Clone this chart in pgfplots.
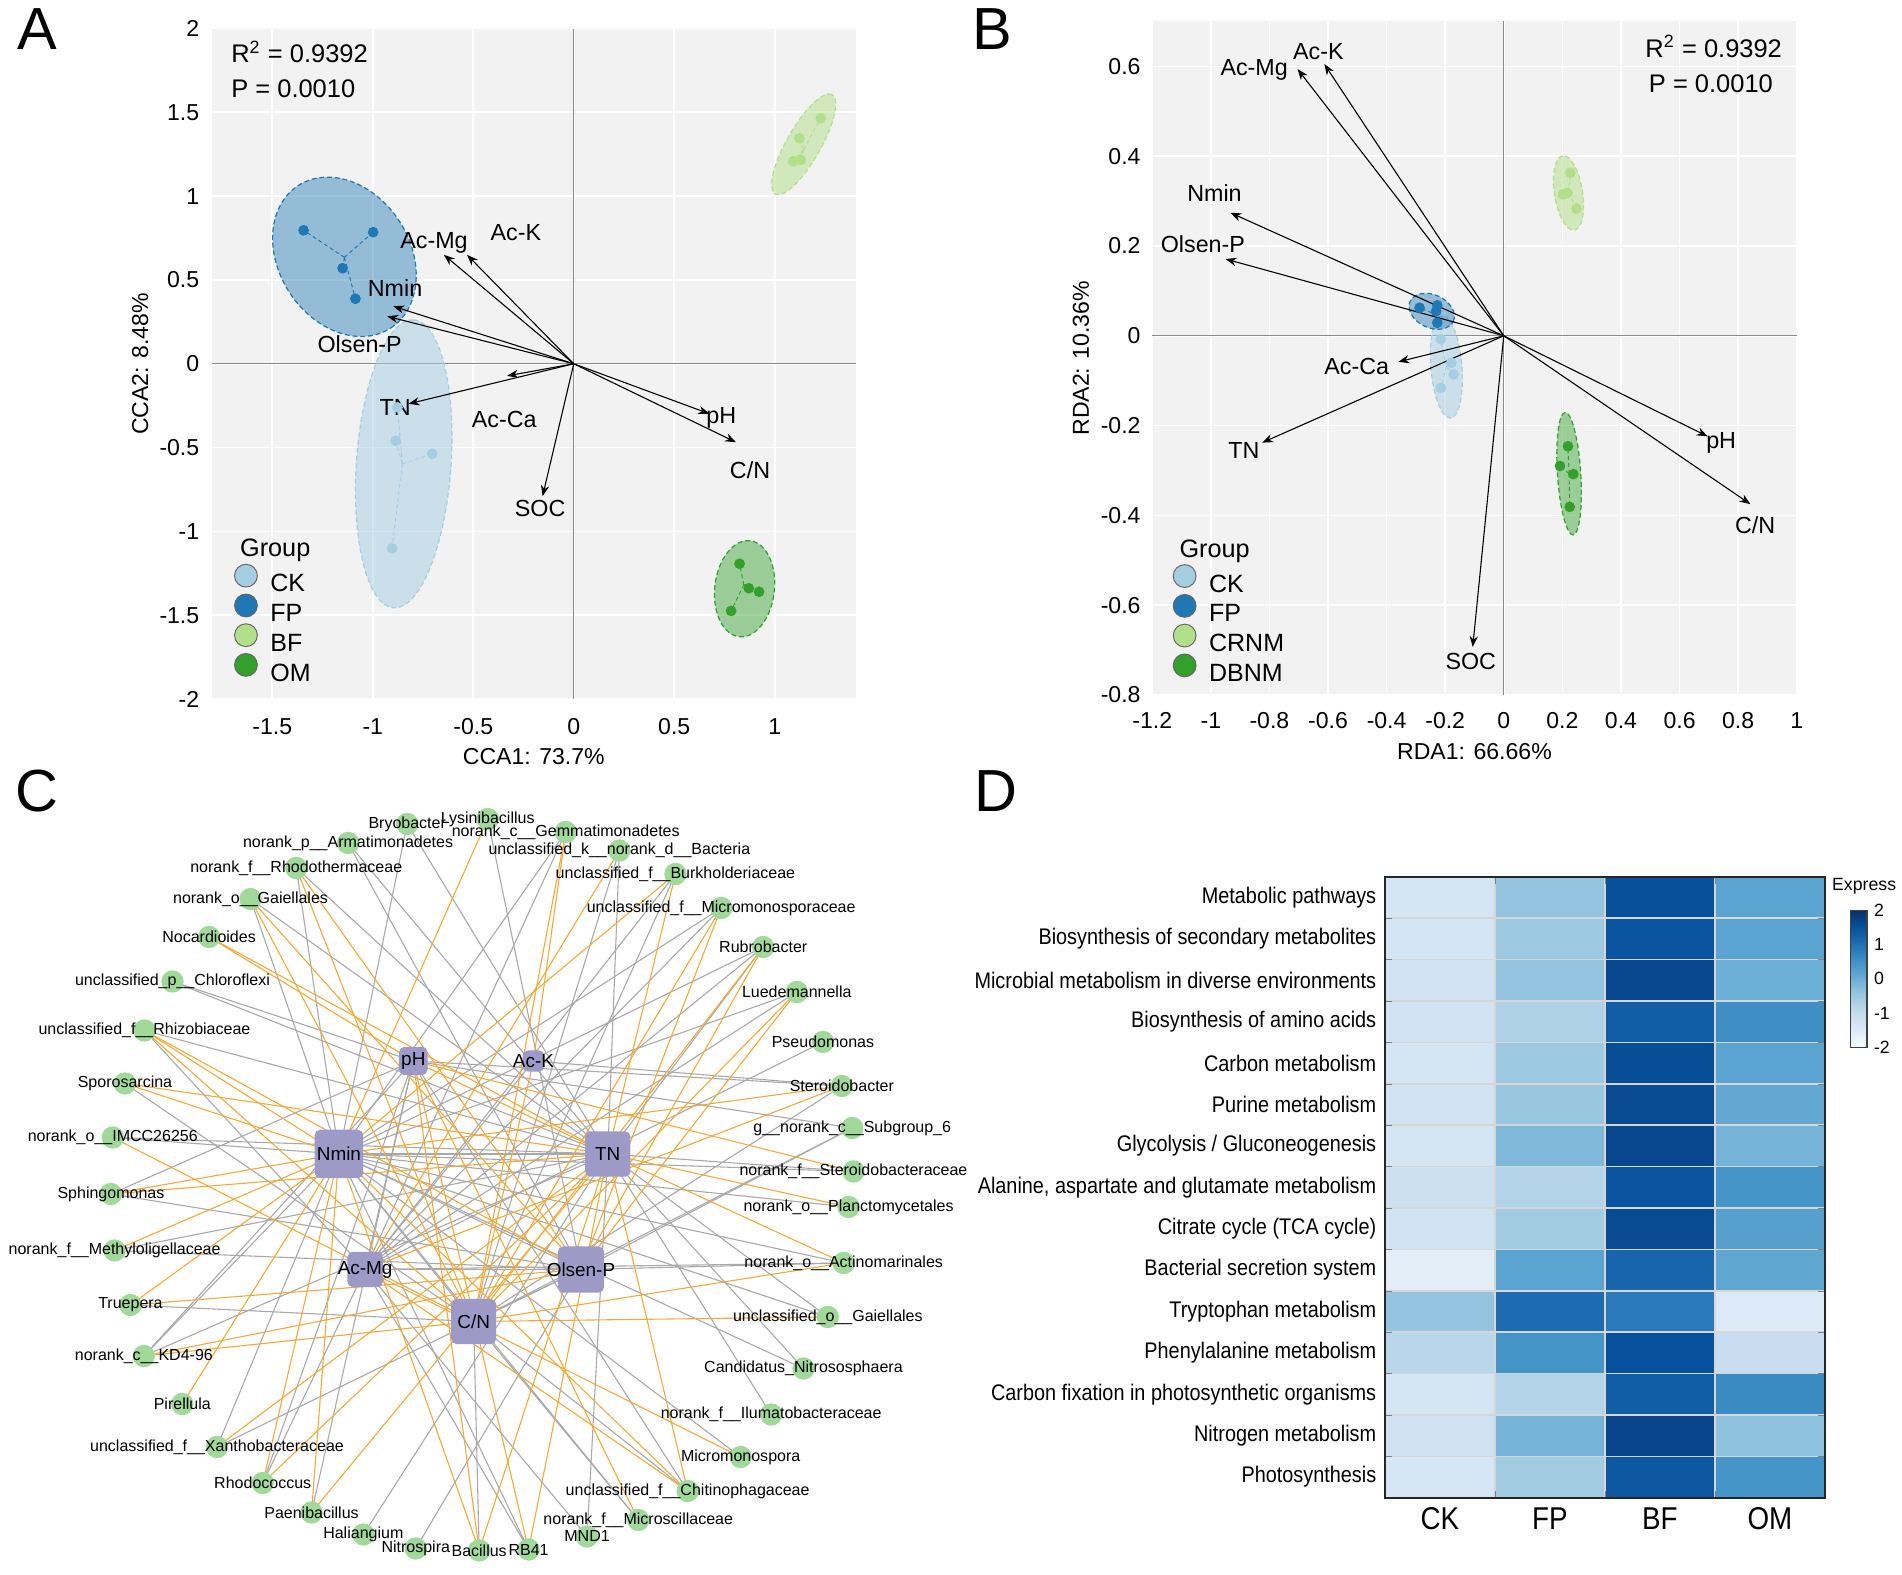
\documentclass[border=0pt]{standalone}
\usepackage{fontspec}
\setmainfont{Liberation Sans}
\newfontfamily\condfont[FakeStretch=0.88]{Liberation Sans}
\usepackage{pgfplots}
\usepackage{pgfplotstable}
\pgfplotsset{compat=1.18}
\usetikzlibrary{arrows.meta}

\definecolor{ckc}{HTML}{A6CEE3}
\definecolor{fpc}{HTML}{1F78B4}
\definecolor{bfc}{HTML}{B2DF8A}
\definecolor{omc}{HTML}{33A02C}
\definecolor{panelbg}{HTML}{F2F2F2}
\definecolor{zeroc}{HTML}{8A8A8A}
\definecolor{hubc}{HTML}{9E9AC8}
\definecolor{leafc}{HTML}{A1D99B}
\definecolor{orgE}{HTML}{F2A93B}
\definecolor{gryE}{HTML}{A8A8A8}
\definecolor{cellgrid}{HTML}{D6D6D6}

\newcommand\fs[1]{\fontsize{#1}{#1}\selectfont}

\pgfplotsset{
  /pgf/number format/assume math mode=true,
  ord/.style={
    scale only axis, clip=false,
    axis background/.style={fill=panelbg},
    axis line style={draw=none},
    major tick length=0pt,
    xmajorgrids=true, ymajorgrids=true,
    major grid style={white, line width=0.7pt},
    tick label style={font=\fs{9.5}, text=black},
    label style={font=\fs{9.5}},
    legend style={draw=none, fill=none, inner sep=0pt, outer sep=0pt,
      row sep=-0.75pt, column sep=5.2pt, font=\fs{10.3},
      nodes={inner sep=0pt}},
    legend cell align=left,
  },
  arr/.style={black, line width=0.45pt, -{Stealth[length=4.5pt, width=3.4pt]}, forget plot},
  spider/.style={line width=0.4pt, dash pattern=on 1.6pt off 1.2pt, forget plot},
  pts/.style={only marks, mark=*, mark size=2pt, forget plot},
  zero/.style={zeroc, line width=0.5pt, forget plot},
  oedge/.style={orgE, line width=0.45pt, mark=none},
  gedge/.style={gryE, line width=0.45pt, mark=none},
  hub/.style 2 args={hubc, only marks, mark=*, mark size=0.1pt,
    nodes near coords={\makebox[0pt]{\pgfplotspointmeta}}, point meta=explicit symbolic,
    every node near coord/.append style={font=\fs{7.8}, text=black, fill=hubc,
      rounded corners=2.2pt, inner sep=0pt, anchor=center,
      minimum width=#1, minimum height=#2}},
}
\tikzset{
  vlab/.style={font=\fs{9.6}, inner sep=0pt, anchor=center},
  ell/.style={line width=0.5pt, dash pattern=on 2pt off 1.2pt},
}
\newcommand\EdO[2]{\addplot[oedge] coordinates {(#1) (#2)};}
\newcommand\EdG[2]{\addplot[gedge] coordinates {(#1) (#2)};}

\pgfplotstableread{
x y c
1 1 -1.3
2 1 -0.4
3 1 1.52
4 1 0.2
1 2 -1.3
2 2 -0.5
3 2 1.45
4 2 0.2
1 3 -1.25
2 3 -0.4
3 3 1.65
4 3 0.0
1 4 -1.25
2 4 -0.7
3 4 1.3
4 4 0.55
1 5 -1.3
2 5 -0.5
3 5 1.55
4 5 0.2
1 6 -1.25
2 6 -0.45
3 6 1.6
4 6 0.1
1 7 -1.3
2 7 -0.2
3 7 1.65
4 7 -0.1
1 8 -1.15
2 8 -0.75
3 8 1.45
4 8 0.45
1 9 -1.25
2 9 -0.55
3 9 1.6
4 9 0.25
1 10 -1.6
2 10 0.2
3 10 1.19
4 10 0.15
1 11 -0.4
2 11 1.08
3 11 0.85
4 11 -1.47
1 12 -0.85
2 12 0.45
3 12 1.5
4 12 -1.05
1 13 -1.3
2 13 -0.75
3 13 1.3
4 13 0.6
1 14 -1.2
2 14 -0.1
3 14 1.68
4 14 -0.35
1 15 -1.35
2 15 -0.55
3 15 1.4
4 15 0.45
}\heatdata

\begin{document}
\catcode`\_=12
\begin{tikzpicture}
\useasboundingbox (0,0) rectangle (784pt,-649.2pt);

% ---------------- Panel letters
\node[anchor=base west, font=\fs{24.5}, inner sep=0pt] at (7pt,-20.6pt) {A};
\node[anchor=base west, font=\fs{24.5}, inner sep=0pt] at (400.5pt,-20.6pt) {B};
\node[anchor=base west, font=\fs{24.5}, inner sep=0pt] at (6.3pt,-334.3pt) {C};
\node[anchor=base west, font=\fs{24.5}, inner sep=0pt] at (401.3pt,-334.3pt) {D};

% ---------------- Panel A
\begin{axis}[ord,
  at={(87.45pt,-288.15pt)}, anchor=south west,
  width=265.2pt, height=276.4pt,
  xmin=-1.799, xmax=1.402, ymin=-2, ymax=2,
  xtick={-1.5,-1,-0.5,0,0.5,1},
  ytick={-2,-1.5,-1,-0.5,0,0.5,1,1.5,2},
  xticklabel style={yshift=-4.4pt},
  yticklabel style={xshift=-1.8pt},
  xlabel={CCA1: 73.7\%}, ylabel={CCA2: 8.48\%},
  xlabel style={at={(axis description cs:0.5,-0.0863)}, anchor=center},
  ylabel style={at={(axis description cs:-0.1118,0.5)}, anchor=center},
  legend style={at={(axis cs:-1.690,-1.193)}, anchor=north west},
]
\addplot[zero] coordinates {(-1.799,0) (1.402,0)};
\addplot[zero] coordinates {(0,-2) (0,2)};
% ellipses
\path[ell, fill=ckc, fill opacity=0.5, draw=ckc] (axis cs:-0.846,-0.597) ellipse [x radius=59.5pt, y radius=19.5pt, rotate=86];
\path[ell, fill=fpc, fill opacity=0.44, draw=fpc] (axis cs:-1.141,0.638) ellipse [x radius=35pt, y radius=27pt, rotate=-57];
\path[ell, fill=bfc, fill opacity=0.5, draw=bfc] (axis cs:1.144,1.309) ellipse [x radius=23.6pt, y radius=7pt, rotate=60.2];
\path[ell, fill=omc, fill opacity=0.45, draw=omc] (axis cs:0.850,-1.342) ellipse [x radius=19.9pt, y radius=12.3pt, rotate=83.5];
% spiders
\addplot[spider, ckc] coordinates {(-0.853,-0.597) (-0.886,-0.459)};
\addplot[spider, ckc] coordinates {(-0.853,-0.597) (-0.704,-0.537)};
\addplot[spider, ckc] coordinates {(-0.853,-0.597) (-0.904,-1.101)};
\addplot[spider, ckc] coordinates {(-0.853,-0.597) (-0.877,-0.260)};
\addplot[spider, fpc] coordinates {(-1.141,0.635) (-1.344,0.796)};
\addplot[spider, fpc] coordinates {(-1.141,0.635) (-0.998,0.785)};
\addplot[spider, fpc] coordinates {(-1.141,0.635) (-1.150,0.570)};
\addplot[spider, fpc] coordinates {(-1.141,0.635) (-1.086,0.388)};
\addplot[spider, bfc] coordinates {(1.144,1.277) (1.229,1.465)};
\addplot[spider, bfc] coordinates {(1.144,1.277) (1.123,1.345)};
\addplot[spider, bfc] coordinates {(1.144,1.277) (1.129,1.217)};
\addplot[spider, bfc] coordinates {(1.144,1.277) (1.092,1.208)};
\addplot[spider, omc] coordinates {(0.846,-1.318) (0.825,-1.193)};
\addplot[spider, omc] coordinates {(0.846,-1.318) (0.871,-1.339)};
\addplot[spider, omc] coordinates {(0.846,-1.318) (0.922,-1.360)};
\addplot[spider, omc] coordinates {(0.846,-1.318) (0.783,-1.474)};
% points
\addplot[pts, ckc] coordinates {(-0.886,-0.459) (-0.704,-0.537) (-0.904,-1.101) (-0.877,-0.260)};
\addplot[pts, fpc] coordinates {(-1.344,0.796) (-0.998,0.785) (-1.150,0.570) (-1.086,0.388)};
\addplot[pts, bfc] coordinates {(1.229,1.465) (1.123,1.345) (1.129,1.217) (1.092,1.208)};
\addplot[pts, omc] coordinates {(0.825,-1.193) (0.871,-1.339) (0.922,-1.360) (0.783,-1.474)};
% arrows
\addplot[arr] coordinates {(0,0) (-0.646,0.650)};
\addplot[arr] coordinates {(0,0) (-0.531,0.650)};
\addplot[arr] coordinates {(0,0) (-0.898,0.343)};
\addplot[arr] coordinates {(0,0) (-0.928,0.283)};
\addplot[arr] coordinates {(0,0) (-0.331,-0.072)};
\addplot[arr] coordinates {(0,0) (-0.822,-0.239)};
\addplot[arr] coordinates {(0,0) (-0.155,-0.790)};
\addplot[arr] coordinates {(0,0) (0.674,-0.298)};
\addplot[arr] coordinates {(0,0) (0.807,-0.468)};
\node[vlab] at (axis cs:-0.695,0.722) {Ac-Mg};
\node[vlab] at (axis cs:-0.288,0.782) {Ac-K};
\node[vlab] at (axis cs:-0.889,0.453) {Nmin};
\node[vlab] at (axis cs:-1.065,0.119) {Olsen-P};
\node[vlab] at (axis cs:-0.889,-0.260) {TN};
\node[vlab] at (axis cs:-0.346,-0.334) {Ac-Ca};
\node[vlab] at (axis cs:-0.167,-0.865) {SOC};
\node[vlab] at (axis cs:0.734,-0.322) {pH};
\node[vlab] at (axis cs:0.877,-0.632) {C/N};
\node[anchor=base west, inner sep=0pt, font=\fs{10.5}] at (axis cs:-1.706,1.796) {R\textsuperscript{2} = 0.9392};
\node[anchor=base west, inner sep=0pt, font=\fs{10.5}] at (axis cs:-1.706,1.587) {P = 0.0010};
\node[anchor=west, inner sep=0pt, font=\fs{10.4}] at (axis cs:-1.662,-1.111) {Group};
\addlegendimage{legend image code/.code={\filldraw[fill=ckc, draw=black!60, line width=0.4pt] (4.7pt,3.8pt) circle [radius=4.7pt];}}
\addlegendentry{CK}
\addlegendimage{legend image code/.code={\filldraw[fill=fpc, draw=black!60, line width=0.4pt] (4.7pt,3.8pt) circle [radius=4.7pt];}}
\addlegendentry{FP}
\addlegendimage{legend image code/.code={\filldraw[fill=bfc, draw=black!60, line width=0.4pt] (4.7pt,3.8pt) circle [radius=4.7pt];}}
\addlegendentry{BF}
\addlegendimage{legend image code/.code={\filldraw[fill=omc, draw=black!60, line width=0.4pt] (4.7pt,3.8pt) circle [radius=4.7pt];}}
\addlegendentry{OM}
\end{axis}

% ---------------- Panel B
\begin{axis}[ord,
  at={(474.95pt,-286.5pt)}, anchor=south west,
  width=265.65pt, height=277.65pt,
  xmin=-1.2, xmax=1, ymin=-0.8, ymax=0.7,
  xtick={-1.2,-1,-0.8,-0.6,-0.4,-0.2,0,0.2,0.4,0.6,0.8,1},
  ytick={-0.8,-0.6,-0.4,-0.2,0,0.2,0.4,0.6},
  xticklabel style={yshift=-3.8pt},
  yticklabel style={xshift=-1.3pt},
  xlabel={RDA1: 66.66\%}, ylabel={RDA2: 10.36\%},
  xlabel style={at={(axis description cs:0.5,-0.0843)}, anchor=center},
  ylabel style={at={(axis description cs:-0.1108,0.5)}, anchor=center},
  legend style={at={(axis cs:-1.130,-0.5085)}, anchor=north west},
]
\addplot[zero] coordinates {(-1.2,0) (1,0)};
\addplot[zero] coordinates {(0,-0.8) (0,0.7)};
\path[ell, fill=ckc, fill opacity=0.5, draw=ckc] (axis cs:-0.196,-0.069) ellipse [x radius=21.2pt, y radius=6.4pt, rotate=94.7];
\path[ell, fill=fpc, fill opacity=0.44, draw=fpc] (axis cs:-0.246,0.0546) ellipse [x radius=9.8pt, y radius=6.8pt, rotate=-25];
\path[ell, fill=bfc, fill opacity=0.5, draw=bfc] (axis cs:0.221,0.318) ellipse [x radius=15.5pt, y radius=5.8pt, rotate=99];
\path[ell, fill=omc, fill opacity=0.45, draw=omc] (axis cs:0.223,-0.307) ellipse [x radius=25.3pt, y radius=4.8pt, rotate=93.7];
\addplot[spider, ckc] coordinates {(-0.196,-0.069) (-0.215,-0.0078)};
\addplot[spider, ckc] coordinates {(-0.196,-0.069) (-0.179,-0.060)};
\addplot[spider, ckc] coordinates {(-0.196,-0.069) (-0.171,-0.086)};
\addplot[spider, ckc] coordinates {(-0.196,-0.069) (-0.215,-0.116)};
\addplot[spider, fpc] coordinates {(-0.246,0.051) (-0.2875,0.0624)};
\addplot[spider, fpc] coordinates {(-0.246,0.051) (-0.227,0.068)};
\addplot[spider, fpc] coordinates {(-0.246,0.051) (-0.231,0.0546)};
\addplot[spider, fpc] coordinates {(-0.246,0.051) (-0.227,0.029)};
\addplot[spider, bfc] coordinates {(0.221,0.318) (0.227,0.363)};
\addplot[spider, bfc] coordinates {(0.221,0.318) (0.202,0.315)};
\addplot[spider, bfc] coordinates {(0.221,0.318) (0.248,0.283)};
\addplot[spider, omc] coordinates {(0.223,-0.307) (0.219,-0.246)};
\addplot[spider, omc] coordinates {(0.223,-0.307) (0.192,-0.290)};
\addplot[spider, omc] coordinates {(0.223,-0.307) (0.2375,-0.308)};
\addplot[spider, omc] coordinates {(0.223,-0.307) (0.225,-0.381)};
\addplot[pts, ckc] coordinates {(-0.215,-0.0078) (-0.179,-0.060) (-0.171,-0.086) (-0.215,-0.116)};
\addplot[pts, fpc] coordinates {(-0.2875,0.0624) (-0.227,0.068) (-0.231,0.0546) (-0.227,0.029)};
\addplot[pts, bfc] coordinates {(0.227,0.363) (0.202,0.315) (0.217,0.318) (0.248,0.283)};
\addplot[pts, omc] coordinates {(0.219,-0.246) (0.192,-0.290) (0.2375,-0.308) (0.225,-0.381)};
\addplot[arr] coordinates {(0,0) (-0.6125,0.605)};
\addplot[arr] coordinates {(0,0) (-0.704,0.594)};
\addplot[arr] coordinates {(0,0) (-0.933,0.274)};
\addplot[arr] coordinates {(0,0) (-0.950,0.171)};
\addplot[arr] coordinates {(0,0) (-0.360,-0.058)};
\addplot[arr] coordinates {(0,0) (-0.825,-0.238)};
\addplot[arr] coordinates {(0,0) (-0.106,-0.693)};
\addplot[arr] coordinates {(0,0) (0.696,-0.224)};
\addplot[arr] coordinates {(0,0) (0.842,-0.375)};
\node[vlab] at (axis cs:-0.633,0.633) {Ac-K};
\node[vlab] at (axis cs:-0.852,0.591) {Ac-Mg};
\node[vlab] at (axis cs:-0.9875,0.318) {Nmin};
\node[vlab] at (axis cs:-1.027,0.204) {Olsen-P};
\node[vlab] at (axis cs:-0.502,-0.069) {Ac-Ca};
\node[vlab] at (axis cs:-0.8875,-0.255) {TN};
\node[vlab] at (axis cs:-0.1125,-0.725) {SOC};
\node[vlab] at (axis cs:0.742,-0.238) {pH};
\node[vlab] at (axis cs:0.858,-0.422) {C/N};
\node[anchor=base west, inner sep=0pt, font=\fs{10.5}] at (axis cs:0.482,0.6205) {R\textsuperscript{2} = 0.9392};
\node[anchor=base west, inner sep=0pt, font=\fs{10.5}] at (axis cs:0.494,0.5415) {P = 0.0010};
\node[anchor=west, inner sep=0pt, font=\fs{10.4}] at (axis cs:-1.1085,-0.479) {Group};
\addlegendimage{legend image code/.code={\filldraw[fill=ckc, draw=black!60, line width=0.4pt] (4.7pt,3.8pt) circle [radius=4.7pt];}}
\addlegendentry{CK}
\addlegendimage{legend image code/.code={\filldraw[fill=fpc, draw=black!60, line width=0.4pt] (4.7pt,3.8pt) circle [radius=4.7pt];}}
\addlegendentry{FP}
\addlegendimage{legend image code/.code={\filldraw[fill=bfc, draw=black!60, line width=0.4pt] (4.7pt,3.8pt) circle [radius=4.7pt];}}
\addlegendentry{CRNM}
\addlegendimage{legend image code/.code={\filldraw[fill=omc, draw=black!60, line width=0.4pt] (4.7pt,3.8pt) circle [radius=4.7pt];}}
\addlegendentry{DBNM}
\end{axis}

% ---------------- Panel C (network)
\begin{axis}[
  at={(0pt,-649.2pt)}, anchor=south west, scale only axis,
  width=392pt, height=324.4pt,
  xmin=0, xmax=1560, ymin=0, ymax=1574, y dir=reverse,
  hide axis, clip=false,
]
\EdG{953,963}{800,62}
\EdG{556,732}{668,72}
\EdG{997,732}{668,72}
\EdG{599,963}{928,88}
\EdG{556,732}{928,88}
\EdG{997,732}{571,110}
\EdG{953,963}{571,110}
\EdG{997,732}{1016,125}
\EdG{777,1067}{1016,125}
\EdG{556,732}{486,160}
\EdG{997,732}{486,160}
\EdG{599,963}{1108,172}
\EdG{777,1067}{1108,172}
\EdG{997,732}{411,222}
\EdG{556,732}{411,222}
\EdG{556,732}{1183,240}
\EdG{599,963}{1183,240}
\EdG{556,732}{1252,318}
\EdG{599,963}{1252,318}
\EdG{997,732}{1252,318}
\EdG{678,546}{283,387}
\EdG{997,732}{283,387}
\EdG{556,732}{1307,408}
\EdG{599,963}{1307,408}
\EdG{599,963}{237,485}
\EdG{997,732}{237,485}
\EdG{599,963}{1350,508}
\EdG{777,1067}{205,591}
\EdG{678,546}{1381,596}
\EdG{777,1067}{1381,596}
\EdG{875,546}{1381,596}
\EdG{556,732}{185,699}
\EdG{997,732}{185,699}
\EdG{678,546}{1398,680}
\EdG{953,963}{1398,680}
\EdG{777,1067}{1398,680}
\EdG{556,732}{1400,767}
\EdG{997,732}{1400,767}
\EdG{678,546}{182,812}
\EdG{953,963}{182,812}
\EdG{556,732}{1392,838}
\EdG{953,963}{188,925}
\EdG{997,732}{188,925}
\EdG{953,963}{1384,950}
\EdG{599,963}{1384,950}
\EdG{556,732}{1384,950}
\EdG{777,1067}{214,1034}
\EdG{556,732}{1358,1058}
\EdG{997,732}{1358,1058}
\EdG{678,546}{236,1136}
\EdG{556,732}{236,1136}
\EdG{997,732}{236,1136}
\EdG{556,732}{1318,1161}
\EdG{997,732}{1318,1161}
\EdG{997,732}{1265,1253}
\EdG{556,732}{356,1318}
\EdG{953,963}{356,1318}
\EdG{556,732}{1215,1338}
\EdG{599,963}{431,1390}
\EdG{678,546}{431,1390}
\EdG{678,546}{1128,1406}
\EdG{777,1067}{1128,1406}
\EdG{678,546}{511,1449}
\EdG{777,1067}{1047,1464}
\EdG{556,732}{1047,1464}
\EdG{997,732}{596,1493}
\EdG{997,732}{963,1497}
\EdG{599,963}{963,1497}
\EdG{953,963}{682,1521}
\EdG{777,1067}{786,1525}
\EdG{556,732}{867,1523}
\EdG{599,963}{867,1523}
\EdG{556,732}{997,732}
\EdG{556,732}{953,963}
\EdG{599,963}{953,963}
\EdG{777,1067}{953,963}
\EdG{556,732}{777,1067}
\EdG{678,546}{599,963}
\EdG{875,546}{599,963}
\EdO{556,732}{800,62}
\EdO{875,546}{928,88}
\EdO{777,1067}{928,88}
\EdO{599,963}{1016,125}
\EdO{777,1067}{486,160}
\EdO{953,963}{486,160}
\EdO{556,732}{1108,172}
\EdO{997,732}{1108,172}
\EdO{777,1067}{411,222}
\EdO{953,963}{411,222}
\EdO{777,1067}{1183,240}
\EdO{953,963}{1183,240}
\EdO{678,546}{343,298}
\EdO{997,732}{343,298}
\EdO{777,1067}{1252,318}
\EdO{953,963}{1252,318}
\EdO{777,1067}{1307,408}
\EdO{953,963}{1307,408}
\EdO{556,732}{237,485}
\EdO{777,1067}{237,485}
\EdO{953,963}{237,485}
\EdO{556,732}{205,591}
\EdO{997,732}{205,591}
\EdO{556,732}{1381,596}
\EdO{599,963}{1381,596}
\EdO{777,1067}{185,699}
\EdO{678,546}{1400,767}
\EdO{997,732}{182,812}
\EdO{556,732}{182,812}
\EdO{997,732}{1392,838}
\EdO{556,732}{188,925}
\EdO{777,1067}{1384,950}
\EdO{997,732}{1384,950}
\EdO{556,732}{214,1034}
\EdO{953,963}{214,1034}
\EdO{777,1067}{1358,1058}
\EdO{953,963}{236,1136}
\EdO{777,1067}{236,1136}
\EdO{556,732}{299,1232}
\EdO{997,732}{356,1318}
\EdO{599,963}{1215,1338}
\EdO{556,732}{431,1390}
\EdO{997,732}{431,1390}
\EdO{556,732}{1128,1406}
\EdO{599,963}{1128,1406}
\EdO{997,732}{1128,1406}
\EdO{556,732}{511,1449}
\EdO{997,732}{511,1449}
\EdO{678,546}{1047,1464}
\EdO{556,732}{786,1525}
\EdO{997,732}{786,1525}
\EdO{678,546}{786,1525}
\EdO{997,732}{867,1523}
\EdO{678,546}{867,1523}
\EdO{678,546}{997,732}
\EdO{875,546}{777,1067}
% leaf nodes
\addplot[leafc, only marks, mark=*, mark size=4.4pt,
  nodes near coords, point meta=explicit symbolic,
  every node near coord/.append style={font=\fs{6.6}, inner sep=0pt, anchor=center, text=black}]
coordinates {
(800,62)[Lysinibacillus]
(668,72)[Bryobacter]
(928,88)[norank_c__Gemmatimonadetes]
(571,110)[norank_p__Armatimonadetes]
(1016,125)[unclassified_k__norank_d__Bacteria]
(486,160)[norank_f__Rhodothermaceae]
(1108,172)[unclassified_f__Burkholderiaceae]
(411,222)[norank_o__Gaiellales]
(1183,240)[unclassified_f__Micromonosporaceae]
(343,298)[Nocardioides]
(1252,318)[Rubrobacter]
(283,387)[unclassified_p__Chloroflexi]
(1307,408)[Luedemannella]
(237,485)[unclassified_f__Rhizobiaceae]
(1350,508)[Pseudomonas]
(205,591)[Sporosarcina]
(1381,596)[Steroidobacter]
(185,699)[norank_o__IMCC26256]
(1398,680)[g__norank_c__Subgroup_6]
(1400,767)[norank_f__Steroidobacteraceae]
(182,812)[Sphingomonas]
(1392,838)[norank_o__Planctomycetales]
(188,925)[norank_f__Methyloligellaceae]
(1384,950)[norank_o__Actinomarinales]
(214,1034)[Truepera]
(1358,1058)[unclassified_o__Gaiellales]
(236,1136)[norank_c__KD4-96]
(1318,1161)[Candidatus_Nitrososphaera]
(299,1232)[Pirellula]
(1265,1253)[norank_f__Ilumatobacteraceae]
(356,1318)[unclassified_f__Xanthobacteraceae]
(1215,1338)[Micromonospora]
(431,1390)[Rhodococcus]
(1128,1406)[unclassified_f__Chitinophagaceae]
(511,1449)[Paenibacillus]
(1047,1464)[norank_f__Microscillaceae]
(596,1493)[Haliangium]
(963,1497)[MND1]
(682,1521)[Nitrospira]
(786,1525)[Bacillus]
(867,1523)[RB41]
};
% hub nodes
\addplot[hub={20pt}{20pt}] coordinates {(556,732)[Nmin]};
\addplot[hub={18.7pt}{18.7pt}] coordinates {(997,732)[TN]};
\addplot[hub={19pt}{19pt}] coordinates {(953,963)[Olsen-P]};
\addplot[hub={18.6pt}{18.6pt}] coordinates {(777,1067)[C/N]};
\addplot[hub={14.6pt}{14.6pt}] coordinates {(599,963)[Ac-Mg]};
\addplot[hub={11.7pt}{11.7pt}] coordinates {(678,546)[pH]};
\addplot[hub={9pt}{8.7pt}] coordinates {(875,546)[Ac-K]};
\end{axis}

% ---------------- Panel D (heatmap)
\begin{axis}[
  at={(570.8pt,-617.4pt)}, anchor=south west, scale only axis,
  width=181.4pt, height=256pt, clip=false,
  xmin=0.5, xmax=4.5, ymin=0.5, ymax=15.5, y dir=reverse,
  enlargelimits=false,
  xtick={1,2,3,4}, xticklabels={CK,FP,BF,OM},
  ytick={1,...,15},
  yticklabels={Metabolic pathways, Biosynthesis of secondary metabolites,
    Microbial metabolism in diverse environments, Biosynthesis of amino acids,
    Carbon metabolism, Purine metabolism, Glycolysis / Gluconeogenesis,
    {Alanine, aspartate and glutamate metabolism}, Citrate cycle (TCA cycle),
    Bacterial secretion system, Tryptophan metabolism, Phenylalanine metabolism,
    Carbon fixation in photosynthetic organisms, Nitrogen metabolism, Photosynthesis},
  major tick length=0pt,
  minor xtick={1.5,2.5,3.5}, minor ytick={1.5,2.5,...,14.5},
  xminorgrids=true, yminorgrids=true,
  minor grid style={cellgrid, line width=0.6pt},
  axis on top,
  axis line style={black!85, line width=0.6pt},
  xticklabel style={font=\condfont\fs{13}, yshift=-0.5pt},
  yticklabel style={font=\condfont\fs{9.3}},
  colormap={blues}{rgb255=(247,251,255) rgb255=(222,235,247) rgb255=(198,219,239) rgb255=(158,202,225) rgb255=(107,174,214) rgb255=(66,146,198) rgb255=(33,113,181) rgb255=(8,81,156) rgb255=(8,48,107)},
  point meta min=-2, point meta max=2,
  colorbar,
  colorbar style={
    at={(parent axis.north east)}, anchor=north west, xshift=1.9pt, yshift=-13.8pt,
    scale only axis, width=6.9pt, height=56.5pt, y dir=normal,
    ytick={-2,-1,0,1,2}, yticklabels={-2,-1,0,1,2},
    minor ytick={}, xminorgrids=false, yminorgrids=false,
    major tick length=0pt,
    yticklabel style={font=\fs{7.3}, xshift=-0.6pt},
    axis line style={black!75, line width=0.5pt},
  },
]
\addplot[matrix plot*, mesh/cols=4, point meta=explicit] table[x=x, y=y, meta=c] {\heatdata};
\node[font=\fs{7.3}] at (axis description cs:1.0893,0.985) {Express};
\end{axis}
\end{tikzpicture}
\end{document}
